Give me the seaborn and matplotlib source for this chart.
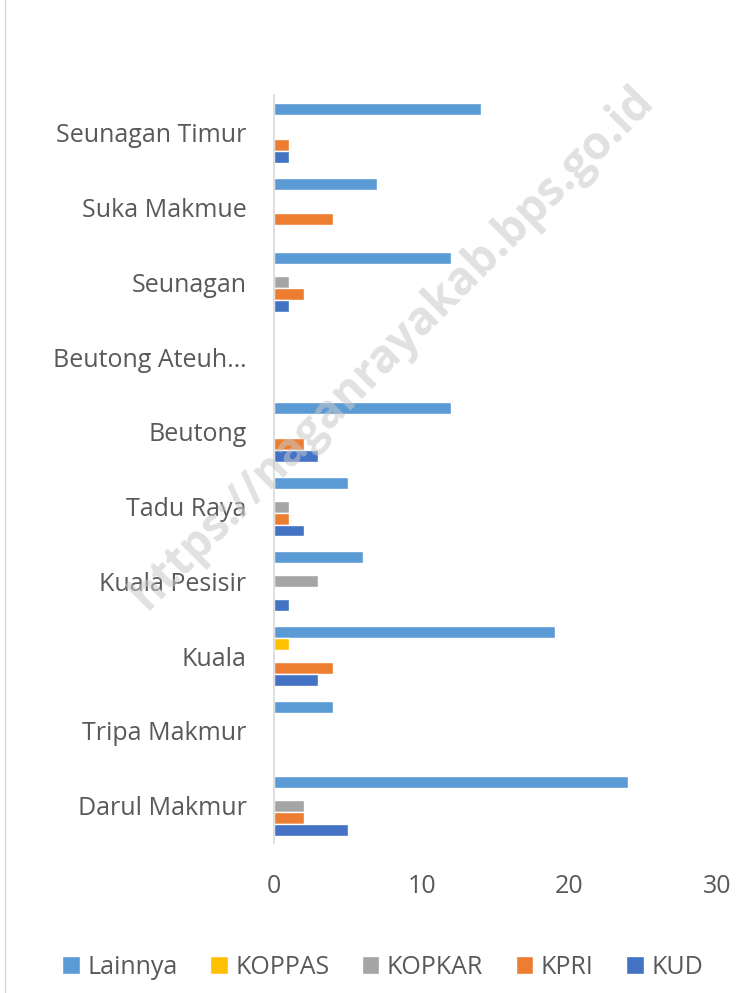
import numpy as np
import pandas as pd
import matplotlib
matplotlib.use("Agg")
import matplotlib.pyplot as plt
from matplotlib.lines import Line2D
import seaborn as sns

# data (categories listed top to bottom as drawn)
kecamatan = ["Seunagan Timur", "Suka Makmue", "Seunagan", "Beutong Ateuh…",
             "Beutong", "Tadu Raya", "Kuala Pesisir", "Kuala",
             "Tripa Makmur", "Darul Makmur"]
jenis = ["Lainnya", "KOPPAS", "KOPKAR", "KPRI", "KUD"]

lainnya = [14, 7, 12, 0, 12, 5, 6, 19, 4, 24]
koppas = [0, 0, 0, 0, 0, 0, 0, 1, 0, 0]
kopkar = [0, 0, 1, 0, 0, 1, 3, 0, 0, 2]
kpri = [1, 4, 2, 0, 2, 1, 0, 4, 0, 2]
kud = [1, 0, 1, 0, 3, 2, 1, 3, 0, 5]

warna = ["#5B9BD5", "#FFC000", "#A5A5A5", "#ED7D31", "#4472C4"]

# susun ke format long
nilai = [lainnya, koppas, kopkar, kpri, kud]
rows = []
for j, vals in zip(jenis, nilai):
    for k, v in zip(kecamatan, vals):
        rows.append({"kecamatan": k, "jenis": j, "jumlah": v})
df = pd.DataFrame(rows)

sns.set_style("white")
plt.rcParams["font.family"] = ["Open Sans", "DejaVu Sans"]

fig = plt.figure(figsize=(7.43, 9.93), dpi=100)
ax = fig.add_axes([0.369, 0.151, 0.596, 0.753])

sns.barplot(data=df, y="kecamatan", x="jumlah", hue="jenis",
            order=kecamatan, hue_order=jenis, palette=warna,
            orient="h", width=0.8, saturation=1, ax=ax, legend=True)

ax.set_xlim(0, 30)
ax.set_xticks([0, 10, 20, 30])
ax.set_xlabel("")
ax.set_ylabel("")
ax.tick_params(axis="both", length=0, colors="#595959", labelsize=18)
ax.tick_params(axis="x", pad=22)
ax.tick_params(axis="y", pad=20)
for s in ["top", "right", "bottom"]:
    ax.spines[s].set_visible(False)
ax.spines["left"].set_color("#D9D9D9")
ax.spines["left"].set_linewidth(1.2)

# legend di bawah
handles, labels = ax.get_legend_handles_labels()
ax.legend_.remove()
fig.legend(handles, labels, loc="center", bbox_to_anchor=(0.515, 0.026),
           ncol=5, frameon=False, fontsize=18, labelcolor="#595959",
           handlelength=0.7, handleheight=0.7, handletextpad=0.3,
           columnspacing=1.3)

# garis tepi kiri
fig.add_artist(Line2D([0.007, 0.007], [0.0, 1.0], color="#D9D9D9", lw=1,
                      transform=fig.transFigure))

# watermark
fig.text(0.528, 0.650, "https://naganrayakab.bps.go.id", rotation=45,
         fontsize=33, fontweight="bold", color="#C8C8C8", alpha=0.55,
         ha="center", va="center", zorder=0)

fig.savefig("out.png", dpi=100)
